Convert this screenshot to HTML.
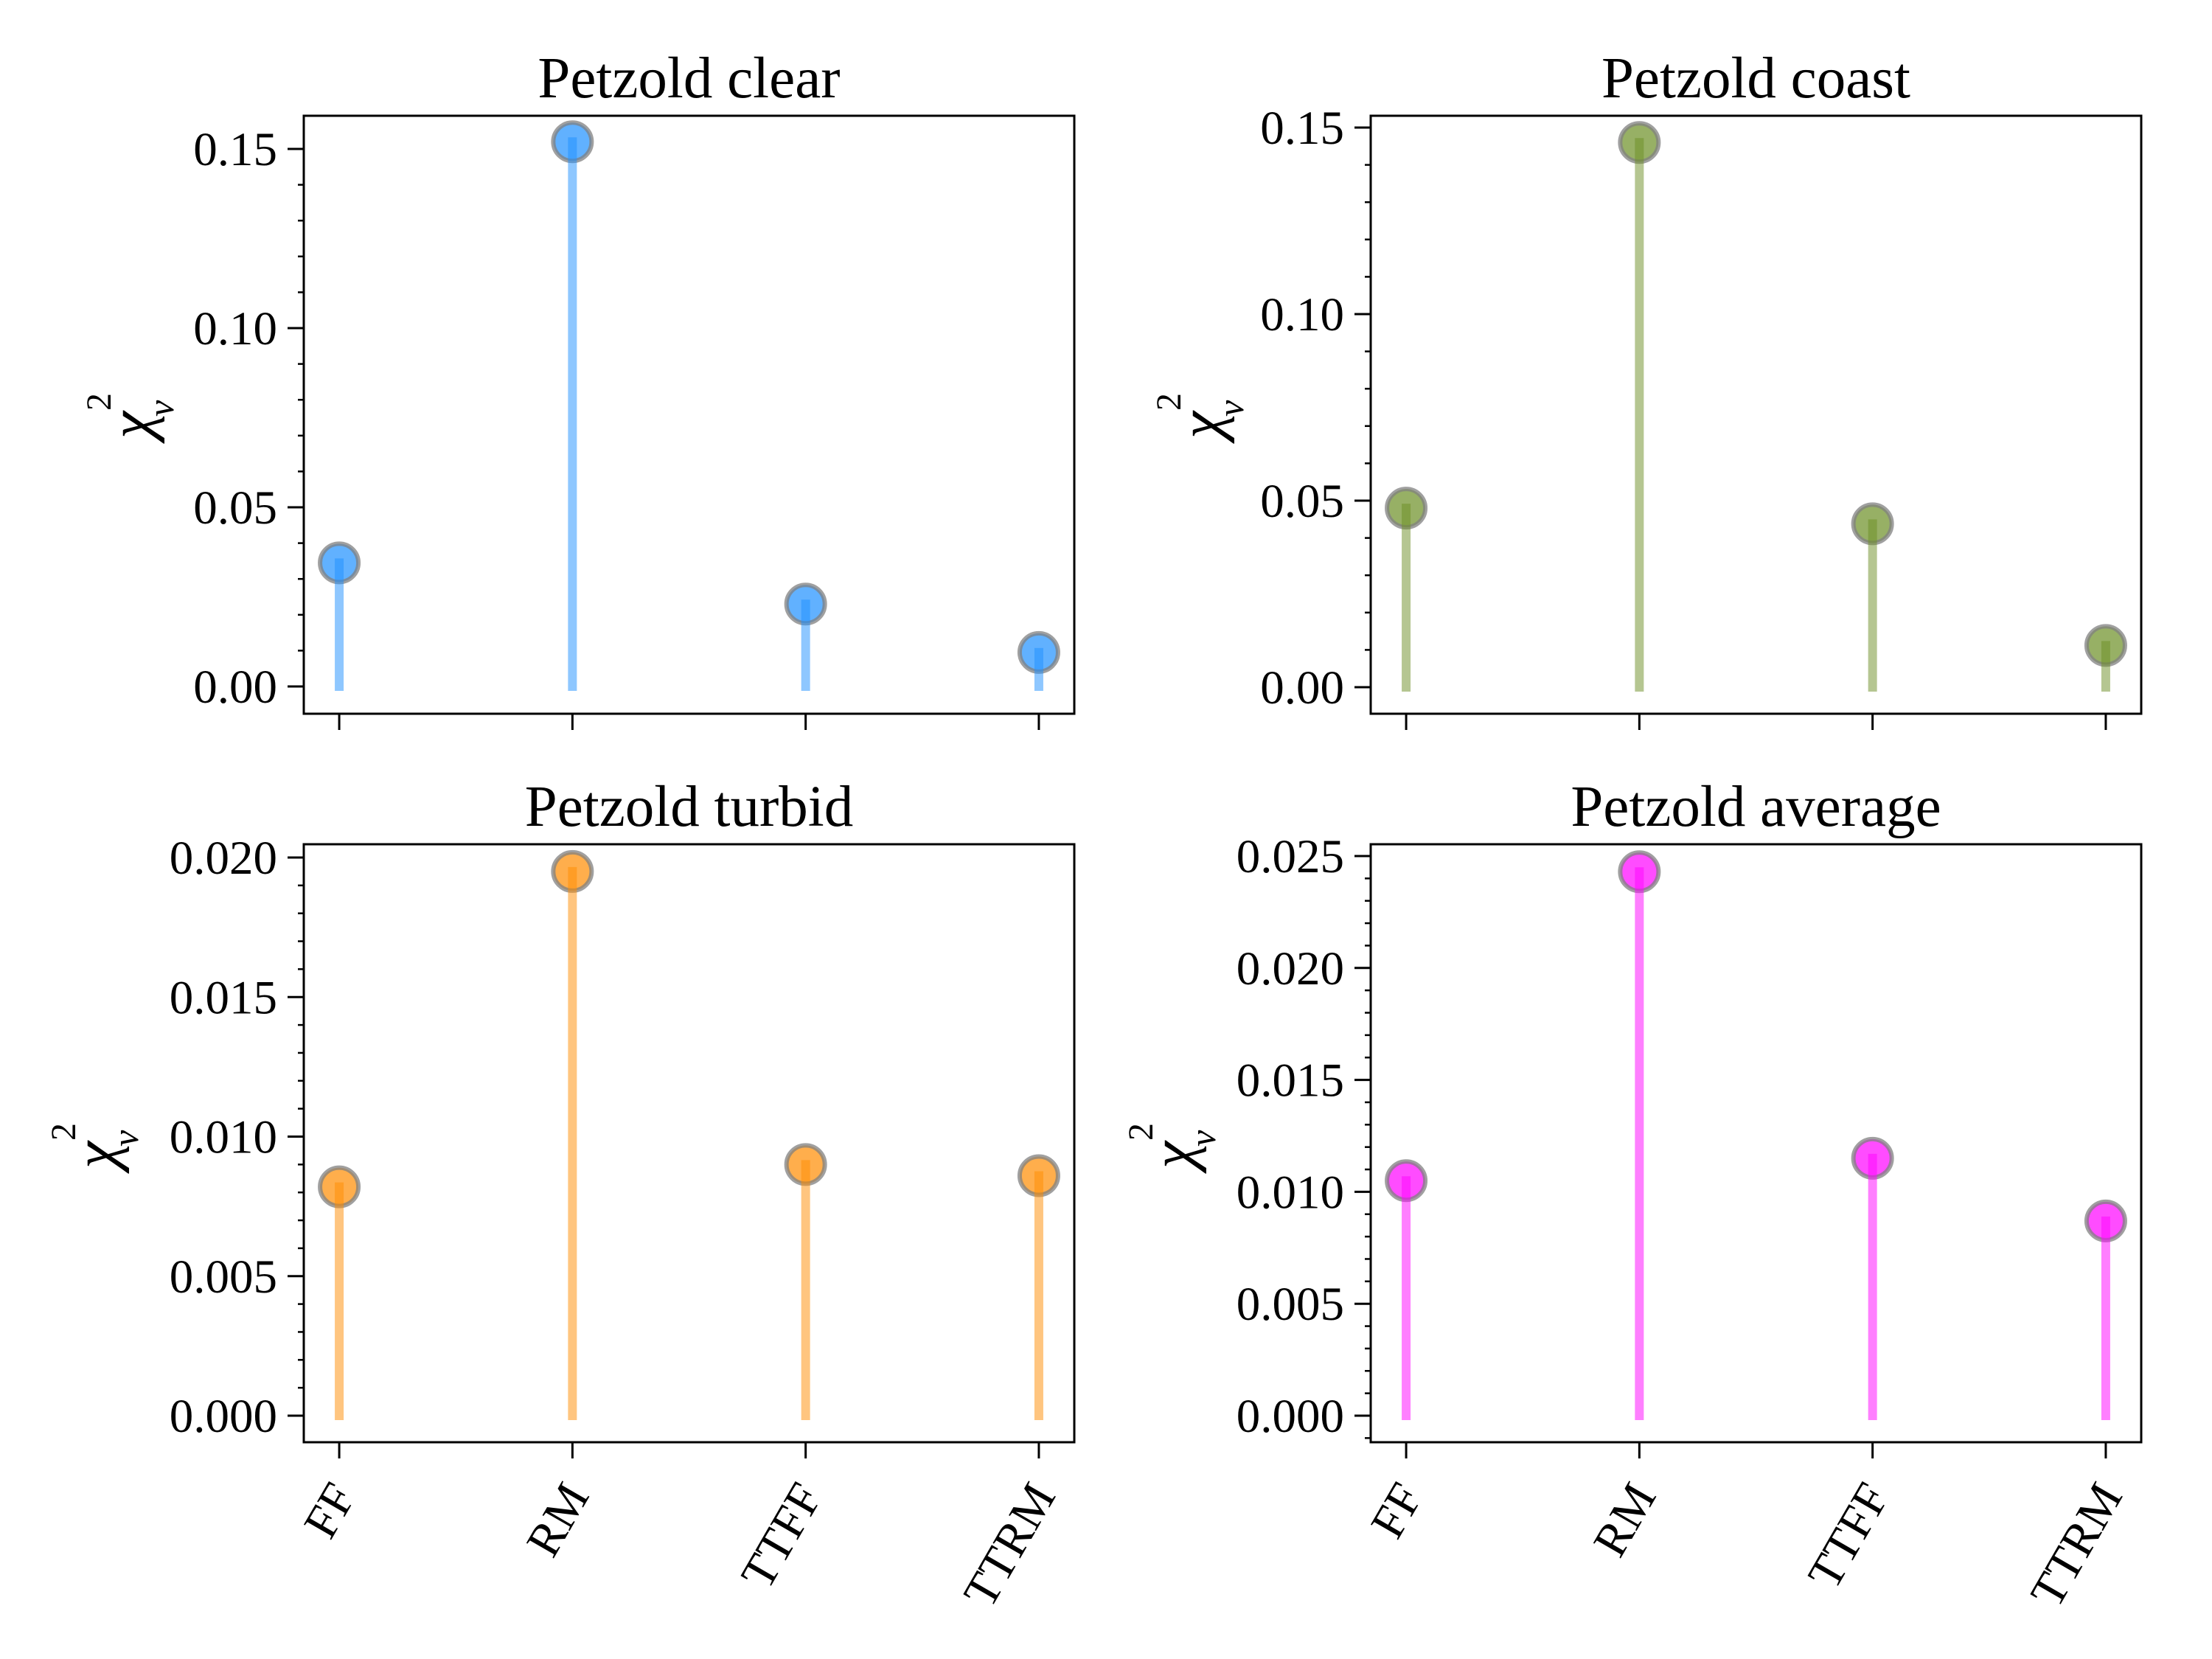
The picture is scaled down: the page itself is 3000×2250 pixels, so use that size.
<!DOCTYPE html>
<html><head><meta charset="utf-8"><style>
html,body{margin:0;padding:0;background:#fff;}
svg{display:block;font-family:"Liberation Serif",serif;}
</style></head><body>
<svg id="fig" width="3000" height="2250" viewBox="0 0 3000 2250" xmlns="http://www.w3.org/2000/svg"></svg>
<script>
const categories = ["FF","RM","TTFF","TTRM"];
const clearValues = [0.0345, 0.152, 0.023, 0.0095];
const coastValues = [0.048, 0.146, 0.0438, 0.0112];
const turbidValues = [0.0082, 0.0195, 0.0090, 0.0086];
const averageValues = [0.0105, 0.0243, 0.0115, 0.0087];
const clearTicks = ["0.00","0.05","0.10","0.15"];
const coastTicks = ["0.00","0.05","0.10","0.15"];
const turbidTicks = ["0.000","0.005","0.010","0.015","0.020"];
const averageTicks = ["0.000","0.005","0.010","0.015","0.020","0.025"];
const titles = ["Petzold clear","Petzold coast","Petzold turbid","Petzold average"];

const NS = "http://www.w3.org/2000/svg";
const svg = document.getElementById("fig");
function mk(tag, attrs, parent){const e=document.createElementNS(NS,tag);for(const k in attrs)e.setAttribute(k,attrs[k]);(parent||svg).appendChild(e);return e;}

const panels = [
 {name:"clear", vals:clearValues, ticks:clearTicks, step:0.05, minor:0.01, color:"#1e90ff", L:412,R:1457,T:157,B:968, y0px:931, topVal:0.15, topPx:202, lx:205, ly:595, xlabels:false},
 {name:"coast", vals:coastValues, ticks:coastTicks, step:0.05, minor:0.01, color:"#6b8e23", L:1859,R:2904,T:157,B:968, y0px:932, topVal:0.15, topPx:173, lx:1656, ly:595, xlabels:false},
 {name:"turbid", vals:turbidValues, ticks:turbidTicks, step:0.005, minor:0.001, color:"#ff8c00", L:412,R:1457,T:1145,B:1956, y0px:1920, topVal:0.02, topPx:1163, lx:157, ly:1585, xlabels:true},
 {name:"average", vals:averageValues, ticks:averageTicks, step:0.005, minor:0.001, color:"#ff00ff", L:1859,R:2904,T:1145,B:1956, y0px:1920, topVal:0.025, topPx:1161, lx:1618, ly:1585, xlabels:true}
];

panels.forEach((p,pi)=>{
  const g = mk("g",{});
  
  
  const ppu = (p.y0px - p.topPx)/p.topVal;
  const yS = v => p.y0px - v*ppu;
  const xS = i => p.L + (p.R-p.L)*0.046 + i*((p.R-p.L)*(1-2*0.046)/(categories.length-1));
  const t = mk("text",{x:(p.L+p.R)/2, y:p.T-25, "text-anchor":"middle","font-size":79,fill:"#000"},g);
  t.textContent = titles[pi];
  
  
  const vMin = (p.y0px - p.B)/ppu, vMax = (p.y0px - p.T)/ppu;
  const nMinor = Math.round(p.step/p.minor);
  for(let k=Math.ceil(vMin/p.minor); k*p.minor<=vMax; k++){
    if(k % nMinor === 0) continue;
    const y=yS(k*p.minor);
    const m = mk("line",{x1:p.L-8,x2:p.L,y1:y,y2:y,stroke:"#000","stroke-width":2.5},g);
    
    
  }
  p.ticks.forEach((lab,i)=>{
    const y=yS(i*p.step);
    const l=mk("line",{x1:p.L-22,x2:p.L,y1:y,y2:y,stroke:"#000","stroke-width":3},g);
    
    
    const tx=mk("text",{x:p.L-36,y:y+22,"text-anchor":"end","font-size":65,fill:"#000"},g);
    tx.textContent=lab;
    
    
  });
  categories.forEach((c,i)=>{
    const x=xS(i);
    const l=mk("line",{x1:x,x2:x,y1:p.B,y2:p.B+22,stroke:"#000","stroke-width":3},g);
    
    
    if(p.xlabels){
      const tx=mk("text",{x:0,y:0,"text-anchor":"end","font-size":65,fill:"#000",transform:`translate(${x+24},${p.B+72}) rotate(-60)`},g);
      tx.textContent=c;
      
      
    }
  });
  const yl = mk("text",{transform:`translate(${p.lx},${p.ly}) rotate(-90)`,fill:"#000"},g);
  
  
  const s1=mk("tspan",{x:0,y:0,"font-size":84,"font-style":"italic"},yl); s1.textContent="χ";
  const s2=mk("tspan",{x:38,y:-55,"font-size":48},yl); s2.textContent="2";
  const s3=mk("tspan",{x:30,y:30,"font-size":50,"font-style":"italic"},yl); s3.textContent="ν";
  p.vals.forEach((v,i)=>{
    const x=xS(i), y=yS(v);
    const c=mk("circle",{cx:x,cy:y,r:26,fill:p.color,"fill-opacity":0.7,stroke:"#808080","stroke-opacity":0.75,"stroke-width":6},g);
    
    
    const st=mk("line",{x1:x,x2:x,y1:p.y0px,y2:y,stroke:p.color,"stroke-opacity":0.5,"stroke-width":12,"stroke-linecap":"square"},g);
    
    
  });
  const f=mk("rect",{x:p.L,y:p.T,width:p.R-p.L,height:p.B-p.T,fill:"none",stroke:"#000","stroke-width":3},g);
  
  
});
</script>
</body></html>
